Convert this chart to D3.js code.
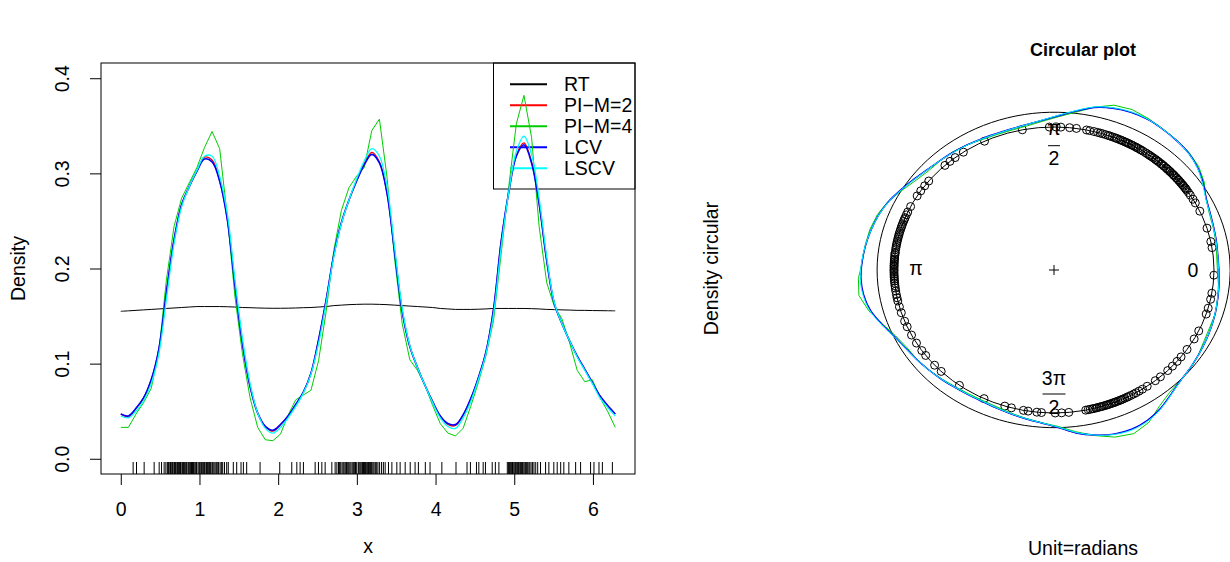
<!DOCTYPE html>
<html>
<head>
<meta charset="utf-8">
<script src="https://cdn.jsdelivr.net/npm/d3@7"></script>
<style>
body { margin: 0; background: #fff; }
text { font-family: "Liberation Sans", Arial, sans-serif; fill: #000; }
</style>
</head>
<body>
<svg id="chart" width="1230" height="562"></svg>
<script>
// density estimates evaluated on an even grid over [0, 2*pi]
const nGrid = 66
const grid = d3.range(nGrid).map(i => i * 2 * Math.PI / (nGrid - 1))

const rt = [0.155,0.1555,0.156,0.1565,0.157,0.1575,0.158,0.1585,0.159,0.1595,
  0.160,0.160,0.160,0.160,0.1598,0.1595,0.159,0.1588,0.1585,0.1583,
  0.1582,0.1582,0.1583,0.1585,0.1588,0.159,0.1595,0.160,0.161,0.1615,
  0.162,0.1623,0.1625,0.1625,0.1623,0.162,0.1615,0.161,0.1605,0.160,
  0.1595,0.159,0.158,0.1575,0.157,0.157,0.157,0.1572,0.1575,0.158,
  0.158,0.158,0.158,0.158,0.1578,0.1575,0.157,0.1568,0.1565,0.1563,
  0.156,0.156,0.1558,0.1557,0.1556,0.1555]

const pim2 = [0.047,0.044,0.053,0.064,0.083,0.115,0.175,0.230,0.267,0.286,
  0.302,0.317,0.314,0.292,0.252,0.183,0.121,0.076,0.048,0.034,
  0.029,0.036,0.045,0.057,0.070,0.090,0.125,0.167,0.214,0.248,
  0.272,0.292,0.310,0.322,0.312,0.279,0.217,0.155,0.118,0.096,
  0.077,0.060,0.045,0.036,0.035,0.046,0.063,0.085,0.112,0.157,
  0.228,0.280,0.319,0.332,0.312,0.268,0.208,0.163,0.142,0.124,
  0.108,0.094,0.080,0.066,0.056,0.047]

const pim4 = [0.033,0.033,0.047,0.059,0.074,0.112,0.188,0.244,0.274,0.290,
  0.306,0.327,0.344,0.326,0.255,0.171,0.110,0.064,0.033,0.020,
  0.019,0.026,0.046,0.062,0.067,0.072,0.103,0.155,0.219,0.261,
  0.285,0.297,0.306,0.345,0.357,0.296,0.210,0.142,0.104,0.093,
  0.077,0.056,0.037,0.027,0.024,0.032,0.055,0.080,0.108,0.145,
  0.215,0.286,0.352,0.382,0.338,0.244,0.185,0.160,0.147,0.122,
  0.093,0.081,0.083,0.064,0.050,0.033]

const lcv = [0.047,0.045,0.053,0.064,0.083,0.115,0.175,0.230,0.267,0.286,
  0.302,0.315,0.312,0.292,0.252,0.183,0.121,0.076,0.048,0.034,
  0.030,0.036,0.045,0.057,0.070,0.090,0.125,0.167,0.214,0.248,
  0.272,0.292,0.309,0.320,0.311,0.279,0.217,0.155,0.118,0.096,
  0.077,0.060,0.045,0.037,0.036,0.046,0.063,0.085,0.112,0.157,
  0.228,0.280,0.318,0.330,0.311,0.268,0.208,0.163,0.142,0.124,
  0.108,0.094,0.080,0.066,0.056,0.047]

const lscv = [0.045,0.043,0.050,0.061,0.079,0.110,0.168,0.226,0.265,0.286,
  0.303,0.318,0.318,0.297,0.258,0.189,0.126,0.079,0.048,0.032,
  0.027,0.033,0.043,0.055,0.069,0.089,0.121,0.164,0.212,0.247,
  0.272,0.294,0.313,0.326,0.318,0.286,0.222,0.158,0.119,0.096,
  0.077,0.059,0.043,0.034,0.032,0.043,0.060,0.083,0.110,0.152,
  0.222,0.280,0.323,0.339,0.320,0.274,0.212,0.164,0.142,0.124,
  0.107,0.093,0.079,0.064,0.054,0.045]

const obs = [0.157,0.200,0.297,0.424,0.488,0.518,0.551,0.573,
  0.592,0.604,0.611,0.625,0.633,0.641,0.655,0.662,0.676,0.684,0.697,0.703,0.718,0.726,0.731,
  0.745,0.758,0.764,0.779,0.787,0.796,0.812,0.819,0.833,0.841,0.857,0.866,0.878,0.884,0.899,
  0.912,0.925,0.933,0.947,0.962,
  0.981,0.994,1.003,1.017,1.028,1.035,1.049,1.061,1.068,1.083,1.091,1.104,1.112,1.126,1.138,
  1.147,1.163,1.172,1.185,1.199,1.214,1.226,1.243,1.262,1.278,1.295,1.318,1.346,
  1.366,1.430,1.473,1.528,1.558,1.600,1.770,2.020,
  2.173,2.237,2.279,2.321,2.470,2.512,2.555,2.597,2.682,2.724,2.746,
  2.767,2.781,2.795,2.812,2.826,2.838,2.853,2.869,2.884,2.897,2.911,2.925,2.941,2.955,2.968,
  2.983,2.998,
  3.018,3.027,3.039,3.051,3.064,3.073,3.085,3.096,3.107,3.114,3.126,3.138,3.147,3.159,3.172,
  3.184,3.193,3.206,3.219,3.235,3.252,3.268,3.289,3.314,3.337,3.360,
  3.402,3.445,3.508,3.550,3.614,3.678,3.740,3.782,3.870,3.930,4.080,4.260,
  4.400,4.443,4.520,4.550,4.605,4.634,4.720,4.760,4.805,
  4.912,4.928,4.941,4.955,4.963,4.978,4.986,4.999,5.011,5.019,5.032,5.044,5.052,5.061,5.073,
  5.082,5.094,5.103,5.111,5.124,5.137,5.146,5.158,5.171,5.186,5.198,5.214,5.233,5.251,5.273,
  5.298,5.334,
  5.398,5.440,5.503,5.546,5.590,5.630,5.694,5.780,5.843,5.970,6.013,6.077,6.120,6.247]

const xTicks = [0, 1, 2, 3, 4, 5, 6]
const yTicks = [0.0, 0.1, 0.2, 0.3, 0.4]
const yTickLabels = ["0.0", "0.1", "0.2", "0.3", "0.4"]

const seriesNames = ["RT", "PI\u2212M=2", "PI\u2212M=4", "LCV", "LSCV"]
const seriesColors = ["#000000", "#ff0000", "#00cd00", "#0000ff", "#00ffff"]
const seriesValues = [rt, pim2, pim4, lcv, lscv]
const seriesWidths = [1, 1.3, 1, 1.6, 1.3]

const svg = d3.select("#chart")
const FS = 19.5

// ---------- left panel ----------
const box = {l: 101, r: 635, t: 63, b: 474}
const x = d3.scaleLinear().domain([-0.2513, 6.5345]).range([box.l, box.r])
const y = d3.scaleLinear().domain([-0.016, 0.416]).range([box.b, box.t])

const left = svg.append("g")

left.append("rect")
  .attr("x", box.l).attr("y", box.t)
  .attr("width", box.r - box.l).attr("height", box.b - box.t)
  .attr("fill", "none").attr("stroke", "#000").attr("stroke-width", 1)

const xAxis = left.append("g")
  .attr("transform", "translate(0," + box.b + ")")
  .call(d3.axisBottom(x).tickValues(xTicks).tickSize(11).tickPadding(17).tickFormat(d3.format("d")))
xAxis.select(".domain").remove()
xAxis.selectAll("text").style("font-size", FS + "px").attr("fill", "#000")
xAxis.selectAll("line").attr("stroke", "#000")

const yAxis = left.append("g")
  .attr("transform", "translate(" + box.l + ",0)")
  .call(d3.axisLeft(y).tickValues(yTicks).tickSize(11).tickFormat((d, i) => yTickLabels[i]))
yAxis.select(".domain").remove()
yAxis.selectAll("line").attr("stroke", "#000")
yAxis.selectAll("text")
  .attr("x", null).attr("dy", null)
  .attr("text-anchor", "middle")
  .attr("transform", "translate(-32.5,0) rotate(-90)")
  .style("font-size", FS + "px").attr("fill", "#000")

left.append("text").attr("x", (box.l + box.r) / 2).attr("y", 553)
  .attr("text-anchor", "middle").style("font-size", FS + "px").text("x")
left.append("text").attr("transform", "translate(24.5," + (box.t + box.b) / 2 + ") rotate(-90)")
  .attr("text-anchor", "middle").style("font-size", FS + "px").text("Density")

// rug
left.append("g").selectAll("line").data(obs).join("line")
  .attr("x1", d => x(d)).attr("x2", d => x(d))
  .attr("y1", 462).attr("y2", box.b)
  .attr("stroke", "#000").attr("stroke-width", 1)

// legend
const leg = left.append("g")
leg.append("rect").attr("x", 493.5).attr("y", box.t).attr("width", box.r - 493.5).attr("height", 126)
  .attr("fill", "none").attr("stroke", "#000")
seriesNames.forEach((name, i) => {
  const ly = 84.3 + i * 21
  leg.append("line").attr("x1", 510).attr("x2", 547).attr("y1", ly).attr("y2", ly)
    .attr("stroke", seriesColors[i]).attr("stroke-width", 2)
  leg.append("text").attr("x", 564).attr("y", ly + 7)
    .style("font-size", FS + "px").text(name)
})

// curves
seriesValues.forEach((vals, i) => {
  const line = d3.line()
    .x((d, j) => x(grid[j])).y(d => y(d))
    .curve(i === 2 ? d3.curveLinear : d3.curveCatmullRom.alpha(0.5))
  left.append("path").datum(vals)
    .attr("d", line)
    .attr("fill", "none").attr("stroke", seriesColors[i]).attr("stroke-width", seriesWidths[i])
})

// ---------- right panel: circular plot ----------
const cx = 1054, cy = 270, rx = 160, ry = 143
const rad = d3.scaleLinear().domain([0, 1]).range([1, 1.65])
const right = svg.append("g")

right.append("text").attr("x", 1083).attr("y", 55.5).attr("text-anchor", "middle")
  .style("font-size", "18px").style("font-weight", "bold").text("Circular plot")
right.append("text").attr("x", 1083).attr("y", 555).attr("text-anchor", "middle")
  .style("font-size", FS + "px").text("Unit=radians")
right.append("text").attr("transform", "translate(717.5," + (box.t + box.b) / 2 + ") rotate(-90)")
  .attr("text-anchor", "middle").style("font-size", FS + "px").text("Density circular")

right.append("ellipse").attr("cx", cx).attr("cy", cy).attr("rx", rx).attr("ry", ry)
  .attr("fill", "none").attr("stroke", "#000")

right.append("line").attr("x1", cx - 5).attr("x2", cx + 5).attr("y1", cy).attr("y2", cy).attr("stroke", "#000")
right.append("line").attr("x1", cx).attr("x2", cx).attr("y1", cy - 5).attr("y2", cy + 5).attr("stroke", "#000")

right.append("g").selectAll("circle").data(obs).join("circle")
  .attr("cx", d => cx + rx * Math.cos(d))
  .attr("cy", d => cy - ry * Math.sin(d))
  .attr("r", 4).attr("fill", "none").attr("stroke", "#000").attr("stroke-width", 1)

// direction labels
const lab = right.append("g").style("font-size", FS + "px").attr("text-anchor", "middle")
lab.append("text").attr("x", cx + 139).attr("y", cy + 7).text("0")
lab.append("text").attr("x", cx - 138).attr("y", cy + 4.5).text("\u03c0")
lab.append("text").attr("x", cx).attr("y", cy - 135.5).text("\u03c0")
lab.append("line").attr("x1", cx - 6).attr("x2", cx + 6).attr("y1", cy - 124.3).attr("y2", cy - 124.3).attr("stroke", "#000")
lab.append("text").attr("x", cx).attr("y", cy - 105).text("2")
lab.append("text").attr("x", cx).attr("y", cy + 115).text("3\u03c0")
lab.append("line").attr("x1", cx - 11.5).attr("x2", cx + 11.5).attr("y1", cy + 124).attr("y2", cy + 124).attr("stroke", "#000")
lab.append("text").attr("x", cx).attr("y", cy + 143.5).text("2")

seriesValues.forEach((vals, i) => {
  const line = d3.line()
    .x((d, j) => cx + rx * rad(d) * Math.cos(grid[j]))
    .y((d, j) => cy - ry * rad(d) * Math.sin(grid[j]))
    .curve(i === 2 ? d3.curveLinear : d3.curveCatmullRom.alpha(0.5))
  right.append("path").datum(vals)
    .attr("d", line)
    .attr("fill", "none").attr("stroke", seriesColors[i]).attr("stroke-width", seriesWidths[i] > 1.4 ? 1.4 : 1)
})
</script>
</body>
</html>
